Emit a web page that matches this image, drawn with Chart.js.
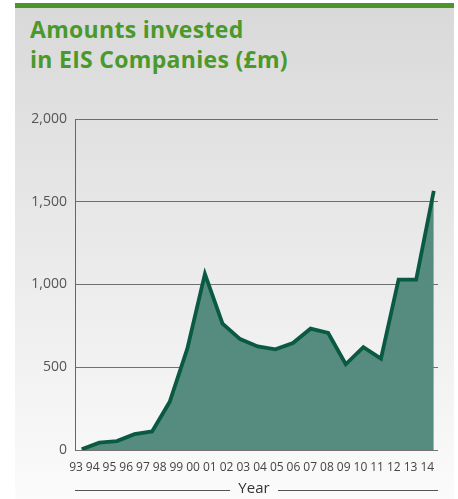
<!DOCTYPE html>
<html>
<head>
<meta charset="utf-8">
<script src="https://cdn.jsdelivr.net/npm/chart.js@4"></script>
<style>
    body { margin: 0; background: #fff; width: 458px; height: 499px; position: relative; overflow: hidden; }
    #panel {
        position: absolute; left: 15px; top: 3px; width: 439px; height: 491px;
        border-top: 5px solid #4a962a;
        background: linear-gradient(#d9d9d9, #fbfbfb);
    }
    #title {
        position: absolute; left: 30px; top: 14px;
        font-family: "Open Sans", sans-serif; font-weight: bold;
        font-size: 23px; line-height: 30px; letter-spacing: 0.3px; color: #4a992a;
    }
    #wrap { position: absolute; left: 15px; top: 100px; width: 438px; height: 399px; }
</style>
</head>
<body>
<div id="panel"></div>
<div id="title">Amounts invested<br>in EIS Companies (£m)</div>
<div id="wrap"><canvas id="chart"></canvas></div>
<script>
// tax years 1993-94 .. 2013-14
const taxYears = ['93-94', '94-95', '95-96', '96-97', '97-98', '98-99', '99-00', '00-01', '01-02', '02-03',
    '03-04', '04-05', '05-06', '06-07', '07-08', '08-09', '09-10', '10-11', '11-12', '12-13', '13-14'];
const amounts = [4, 44, 54, 96, 112, 291, 612, 1064, 763, 670, 626, 608, 646, 733, 707, 518, 622, 552, 1030, 1030, 1565];
const yearLabels = ['93', '94', '95', '96', '97', '98', '99', '00', '01', '02', '03', '04', '05', '06', '07',
    '08', '09', '10', '11', '12', '13', '14'];

// draws "Year" with a rule on each side under the axis
const yearTitle = {
    id: 'yearTitle',
    afterDraw(chart) {
        const ctx = chart.ctx;
        const area = chart.chartArea;
        const y = 390.5;
        ctx.save();
        ctx.strokeStyle = '#555';
        ctx.lineWidth = 1;
        ctx.beginPath();
        ctx.moveTo(area.left, y); ctx.lineTo(215, y);
        ctx.moveTo(263, y); ctx.lineTo(area.right, y);
        ctx.stroke();
        ctx.fillStyle = '#333';
        ctx.font = '15px "Open Sans", sans-serif';
        ctx.textAlign = 'center';
        ctx.textBaseline = 'middle';
        ctx.fillText('Year', 239, 389);
        ctx.restore();
    }
};

new Chart(document.getElementById('chart').getContext('2d'), {
    type: 'line',
    data: {
        datasets: [{
            label: 'Amount invested (£m)',
            data: amounts.map((v, i) => ({ x: i, y: v })),
            borderColor: '#0a5a42',
            borderWidth: 3.8,
            backgroundColor: '#568b80',
            fill: 'origin',
            pointRadius: 0,
            tension: 0,
            xAxisID: 'x'
        }]
    },
    options: {
        responsive: true,
        maintainAspectRatio: false,
        animation: false,
        layout: { padding: { left: 0, right: 15, top: 19, bottom: 0 } },
        plugins: { legend: { display: false }, tooltip: { enabled: false } },
        scales: {
            x: { type: 'linear', display: false, min: -0.38, max: 20.24 },
            xl: {
                type: 'linear', position: 'bottom', min: -0.06, max: 21.64,
                grid: { display: false },
                border: { display: false },
                afterBuildTicks: s => { s.ticks = yearLabels.map((l, i) => ({ value: i })); },
                afterFit: s => { s.height = 49; },
                ticks: {
                    autoSkip: false, maxRotation: 0, padding: 2,
                    color: '#444',
                    font: { family: 'Open Sans', size: 12 },
                    callback: v => yearLabels[v]
                }
            },
            y: {
                min: 0, max: 2000, z: 1,
                afterFit: s => { s.width = 60; },
                grid: { color: 'rgba(70,70,70,0.75)', drawTicks: false },
                border: { color: '#666' },
                ticks: {
                    stepSize: 500, padding: 8,
                    color: '#555',
                    font: { family: 'Open Sans', size: 14 },
                    callback: v => v.toLocaleString('en-GB')
                }
            }
        }
    },
    plugins: [yearTitle]
});
</script>
</body>
</html>
